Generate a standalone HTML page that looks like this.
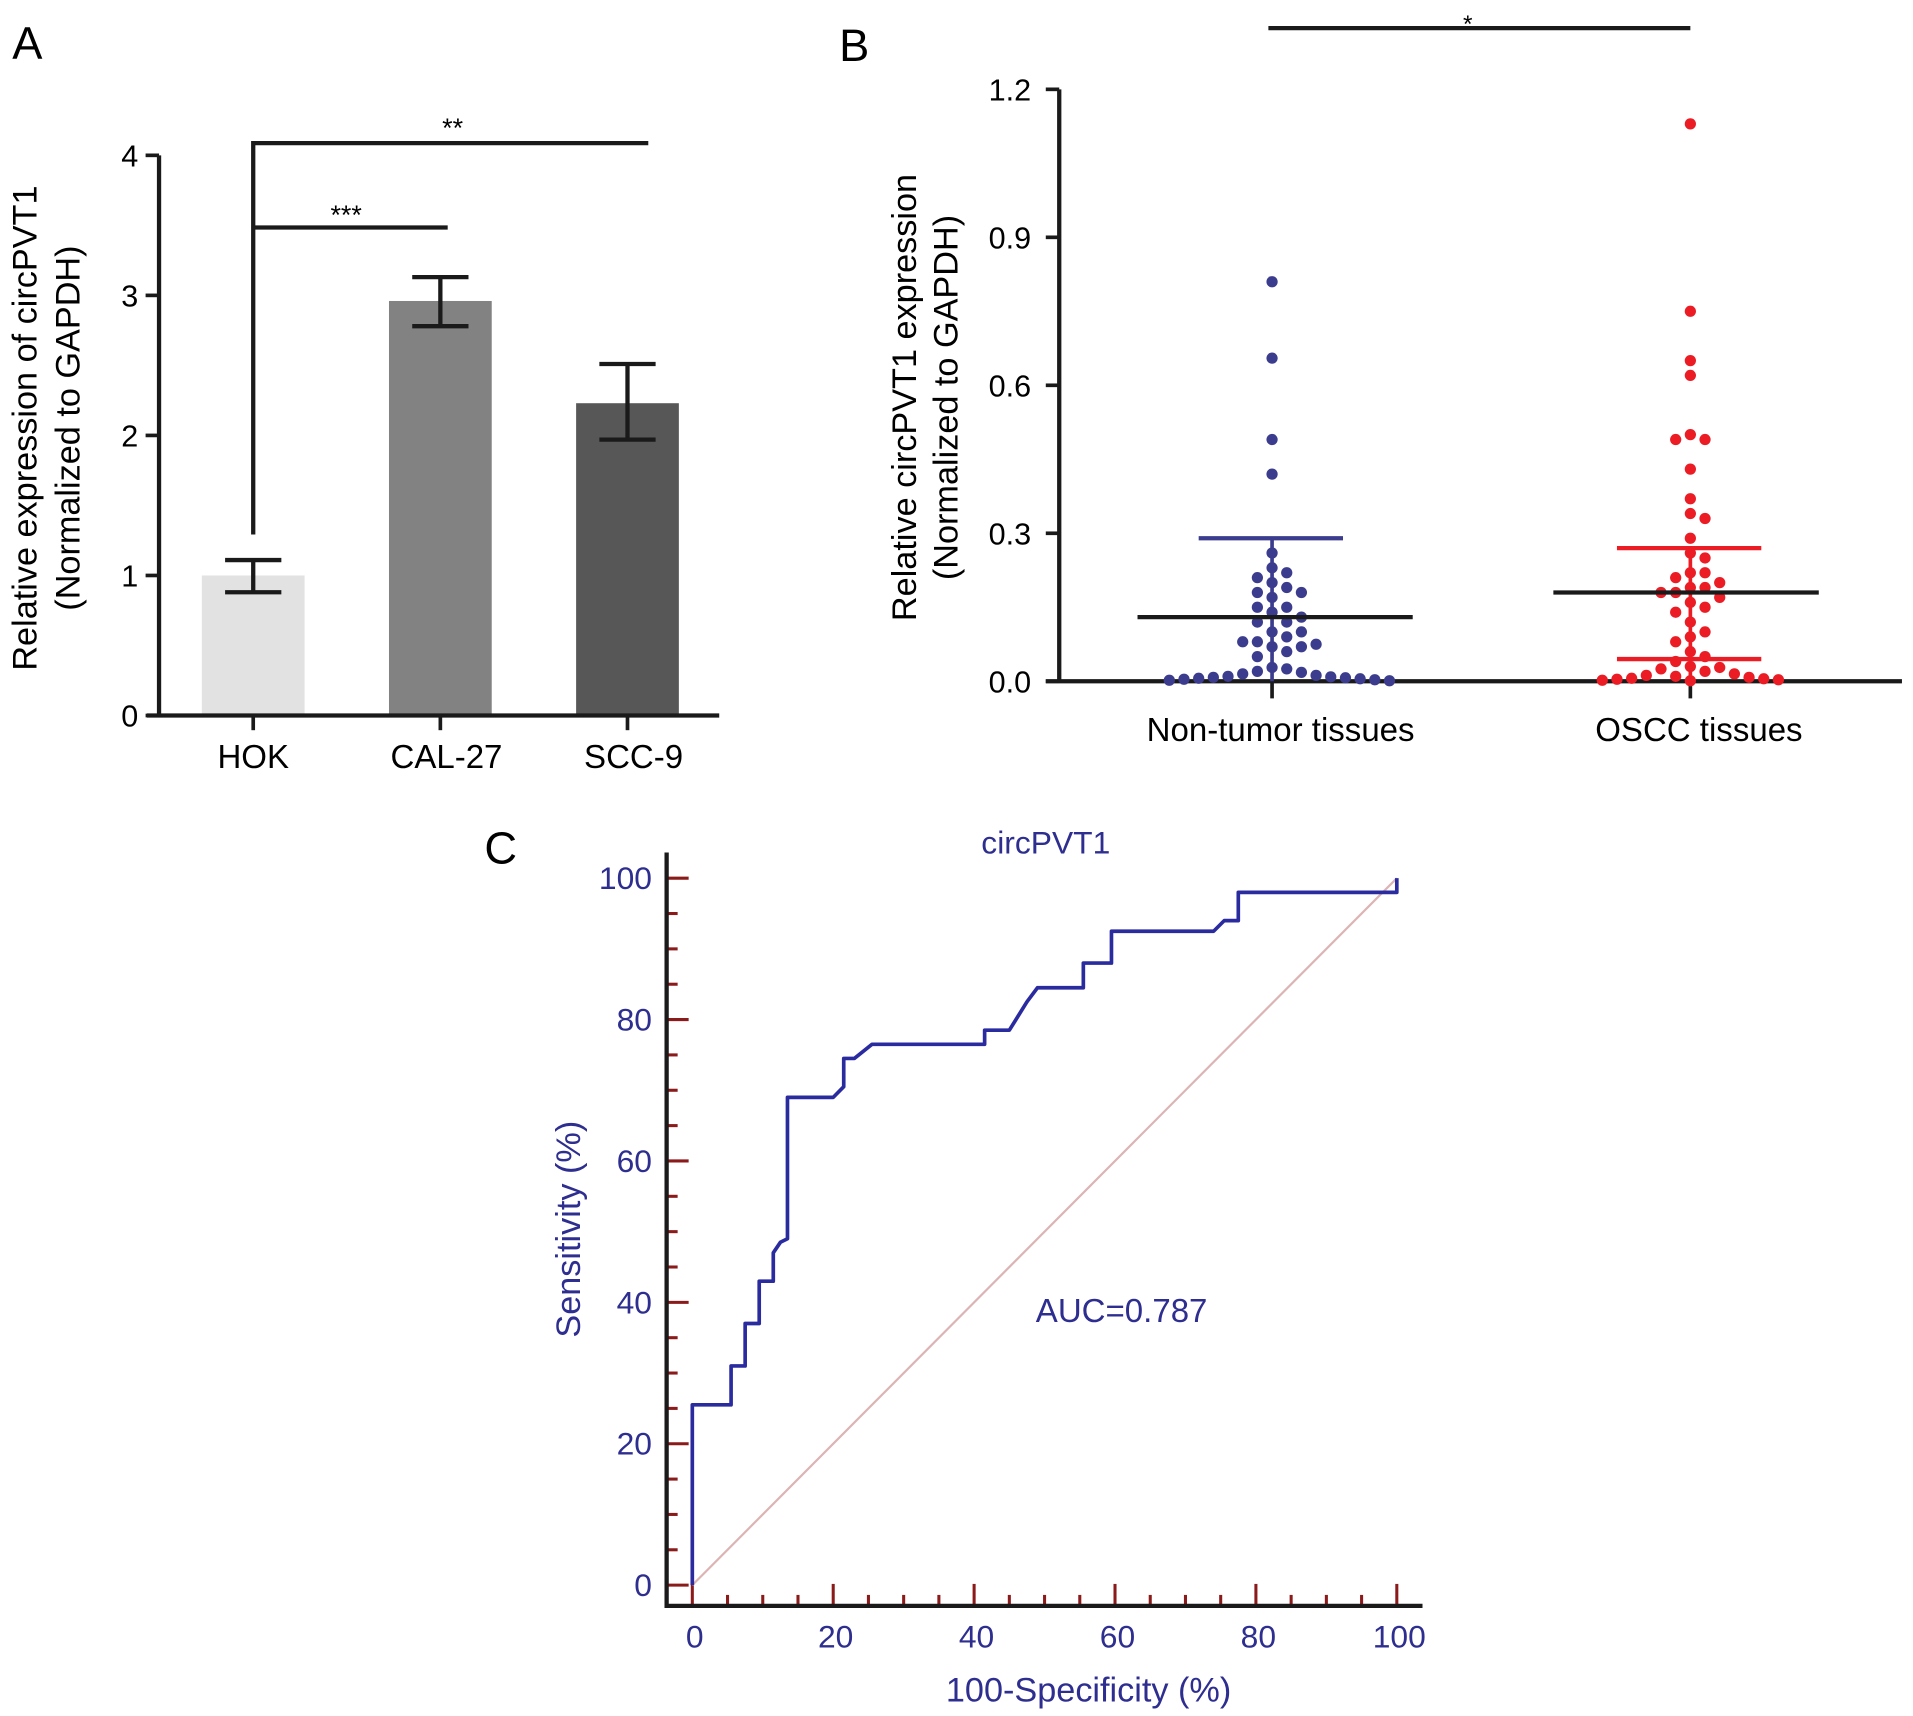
<!DOCTYPE html>
<html><head><meta charset="utf-8"><style>
html,body{margin:0;padding:0;background:#fff;}
svg{display:block;font-family:"Liberation Sans",Arial,sans-serif;}
</style></head><body>
<svg id="fig" xmlns="http://www.w3.org/2000/svg" width="1913" height="1716" viewBox="0 0 1564 1403">
<rect width="1564" height="1403" fill="#fff"/>
<g id="pa"></g>
<g id="pb"></g>
<g id="pc"></g>
</svg>
<script>
// Panel A data
const barCategories = ["HOK","CAL-27","SCC-9"];
const barValues = [1.0, 2.96, 2.23];
const barErrLow = [0.88, 2.78, 1.97];
const barErrHigh = [1.11, 3.13, 2.51];
const barTicks = [0,1,2,3,4];
// Panel B data
const scatterGroups = ["Non-tumor tissues","OSCC tissues"];
const nonTumorValues = [0.81,0.655,0.49,0.42,0.26,0.23,0.22,0.21,0.20,0.19,0.18,0.18,0.17,0.15,0.15,0.14,0.13,0.12,0.12,0.10,0.10,0.09,0.08,0.08,0.075,0.07,0.07,0.06,0.05,0.028,0.025,0.02,0.018,0.015,0.012,0.01,0.009,0.008,0.007,0.006,0.005,0.004,0.003,0.002,0.001];
const osccValues = [1.13,0.75,0.65,0.62,0.50,0.49,0.49,0.43,0.37,0.34,0.33,0.29,0.26,0.25,0.22,0.22,0.21,0.20,0.19,0.19,0.18,0.18,0.17,0.16,0.15,0.14,0.12,0.10,0.09,0.08,0.06,0.05,0.04,0.03,0.028,0.025,0.02,0.015,0.012,0.01,0.008,0.006,0.005,0.004,0.003,0.002,0.001];
const groupMean = [0.13, 0.18];
const groupSdHigh = [0.29, 0.27];
const groupSdLow = [null, 0.045];
const scatterTicks = [0.0,0.3,0.6,0.9,1.2];
// Panel C data
const rocX = [0,0,5.5,5.5,7.5,7.5,9.5,9.5,11.5,11.5,12.5,13.5,13.5,20,21.5,21.5,23,25.5,41.5,41.5,45,47.5,49,55.5,55.5,59.5,59.5,74,75.5,77.5,77.5,100,100];
const rocY = [0,25.5,25.5,31,31,37,37,43,43,47,48.5,49,69,69,70.5,74.5,74.5,76.5,76.5,78.5,78.5,82.5,84.5,84.5,88,88,92.5,92.5,94,94,98,98,100];
const rocTicks = [0,20,40,60,80,100];

const NS="http://www.w3.org/2000/svg";
function mk(parent,tag,attrs,text){const e=document.createElementNS(NS,tag);for(const k in attrs)e.setAttribute(k,attrs[k]);if(text!==undefined)e.textContent=text;parent.appendChild(e);return e;}

// ---------- Panel A ----------
const pa=document.getElementById('pa');
const aY=v=>585-v*114.5;
const aX=i=>207+i*153;
let t;
t=mk(pa,'text',{x:10,y:48,'font-size':37},'A');

const aColors=["#e2e2e2","#828282","#575757"];
barCategories.forEach((c,i)=>{
  let r=mk(pa,'rect',{x:aX(i)-42,y:aY(barValues[i]),width:84,height:aY(0)-aY(barValues[i]),fill:aColors[i]});
  
  let e=mk(pa,'path',{d:`M${aX(i)},${aY(barErrLow[i])}V${aY(barErrHigh[i])}M${aX(i)-23},${aY(barErrLow[i])}h46M${aX(i)-23},${aY(barErrHigh[i])}h46`,stroke:'#1a1a1a','stroke-width':3.5,fill:'none'});
  
  mk(pa,'line',{x1:aX(i),y1:aY(0),x2:aX(i),y2:aY(0)+12,stroke:'#1a1a1a','stroke-width':3});
  let l=mk(pa,'text',{x:aX(i)+(i?5:0),y:628,'font-size':27,'text-anchor':'middle'},c);
  
});
let ax=mk(pa,'path',{d:`M130,${aY(4)}V${aY(0)}M120,${aY(0)}H588`,stroke:'#1a1a1a','stroke-width':3.5,fill:'none'});

barTicks.forEach(v=>{
  mk(pa,'line',{x1:119,y1:aY(v),x2:130,y2:aY(v),stroke:'#1a1a1a','stroke-width':3});
  let l=mk(pa,'text',{x:113,y:aY(v)+9,'font-size':25,'text-anchor':'end'},v);
  
});
let yt=mk(pa,'text',{transform:'translate(30,350) rotate(-90)','font-size':28,'text-anchor':'middle'},'Relative expression of circPVT1');

yt=mk(pa,'text',{transform:'translate(65,350) rotate(-90)','font-size':28,'text-anchor':'middle'},'(Normalized to GAPDH)');

let br=mk(pa,'path',{d:'M207,437V117H530M207,186H366',stroke:'#1a1a1a','stroke-width':3.5,fill:'none'});

t=mk(pa,'text',{x:370,y:112,'font-size':22,'text-anchor':'middle'},'**');
t=mk(pa,'text',{x:283,y:183,'font-size':22,'text-anchor':'middle'},'***');

// ---------- Panel B ----------
const pb=document.getElementById('pb');
const bY=v=>557-v*403.3;
const bX=i=>1040+i*342;
t=mk(pb,'text',{x:686,y:50,'font-size':37},'B');
ax=mk(pb,'path',{d:`M866,${bY(1.2)}V${bY(0)}M855,${bY(0)}H1555`,stroke:'#1a1a1a','stroke-width':3.5,fill:'none'});

scatterTicks.forEach(v=>{
  mk(pb,'line',{x1:855,y1:bY(v),x2:866,y2:bY(v),stroke:'#1a1a1a','stroke-width':3});
  let l=mk(pb,'text',{x:843,y:bY(v)+9,'font-size':25,'text-anchor':'end'},v.toFixed(1));
  
});
yt=mk(pb,'text',{transform:'translate(749,325) rotate(-90)','font-size':28,'text-anchor':'middle'},'Relative circPVT1 expression');

yt=mk(pb,'text',{transform:'translate(783,325) rotate(-90)','font-size':28,'text-anchor':'middle'},'(Normalized to GAPDH)');

const gColors=["#3c3c8e","#ec1c24"];
[nonTumorValues,osccValues].forEach((vals,g)=>{
  const cx=bX(g);
  mk(pb,'line',{x1:cx,y1:bY(0),x2:cx,y2:bY(0)+14,stroke:'#1a1a1a','stroke-width':3});
  let l=mk(pb,'text',{x:cx+7,y:606,'font-size':27,'text-anchor':'middle'},scatterGroups[g]);
  
  mk(pb,'line',{x1:cx,y1:bY(0),x2:cx,y2:bY(groupSdHigh[g]),stroke:gColors[g],'stroke-width':3});
  const placed=[];const r=4.6,step=12,minD=11.5;
  vals.forEach(v=>{
    const y=bY(v);let k=0,x=cx;
    for(;;){const off=(k===0?0:(k%2?1:-1)*Math.ceil(k/2)*step);x=cx+off;
      if(!placed.some(p=>Math.hypot(p[0]-x,p[1]-y)<minD))break;k++;}
    placed.push([x,y]);
    let d=mk(pb,'circle',{cx:x,cy:y,r:r,fill:gColors[g]});
    
  });
  let m=mk(pb,'line',{x1:cx-110+g*(-2),y1:bY(groupMean[g]),x2:cx+115+g*(-10),y2:bY(groupMean[g]),stroke:'#1a1a1a','stroke-width':3.5});
  
  let s=mk(pb,'line',{x1:cx-60,y1:bY(groupSdHigh[g]),x2:cx+58,y2:bY(groupSdHigh[g]),stroke:gColors[g],'stroke-width':3.5});
  
  if(groupSdLow[g]!==null){
    s=mk(pb,'line',{x1:cx-60,y1:bY(groupSdLow[g]),x2:cx+58,y2:bY(groupSdLow[g]),stroke:gColors[g],'stroke-width':3.5});
    
  }
});
br=mk(pb,'line',{x1:1037,y1:23,x2:1382,y2:23,stroke:'#1a1a1a','stroke-width':3.5});

t=mk(pb,'text',{x:1200,y:26,'font-size':20,'text-anchor':'middle'},'*');

// ---------- Panel C ----------
const pc=document.getElementById('pc');
const cX=v=>566+v*5.76;
const cY=v=>1296-v*5.78;
const blue="#2e2e90",tick="#8b1a1a";
t=mk(pc,'text',{x:396,y:706,'font-size':37},'C');
for(let v=0;v<=100;v+=5){
  const major=v%20===0;
  mk(pc,'line',{x1:545,y1:cY(v),x2:545+(major?18:9),y2:cY(v),stroke:tick,'stroke-width':2.5});
  mk(pc,'line',{x1:cX(v),y1:1313,x2:cX(v),y2:1313-(major?18:9),stroke:tick,'stroke-width':2.5});
}
rocTicks.forEach(v=>{
  let l=mk(pc,'text',{x:533,y:cY(v)+9,'font-size':26,'text-anchor':'end',fill:blue},v);
  
  l=mk(pc,'text',{x:cX(v)+2,y:1347,'font-size':26,'text-anchor':'middle',fill:blue},v);
  
});
ax=mk(pc,'path',{d:'M545,697V1313H1163',stroke:'#1a1a1a','stroke-width':3.5,fill:'none'});

let dg=mk(pc,'line',{x1:cX(0),y1:cY(0),x2:cX(100),y2:cY(100),stroke:'#dcb4b4','stroke-width':1.8});

let pd=rocX.map((x,i)=>(i?'L':'M')+cX(x).toFixed(1)+','+cY(rocY[i]).toFixed(1)).join('');
let rl=mk(pc,'path',{d:pd,stroke:'#2b2ba0','stroke-width':3,fill:'none','stroke-linejoin':'round'});

t=mk(pc,'text',{x:855,y:698,'font-size':26,'text-anchor':'middle',fill:blue},'circPVT1');
t=mk(pc,'text',{x:917,y:1081,'font-size':27,'text-anchor':'middle',fill:blue},'AUC=0.787');
t=mk(pc,'text',{x:890,y:1391,'font-size':28,'text-anchor':'middle',fill:blue},'100-Specificity (%)');
t=mk(pc,'text',{transform:'translate(474,1005) rotate(-90)','font-size':28,'text-anchor':'middle',fill:blue},'Sensitivity (%)');
</script>
</body></html>
